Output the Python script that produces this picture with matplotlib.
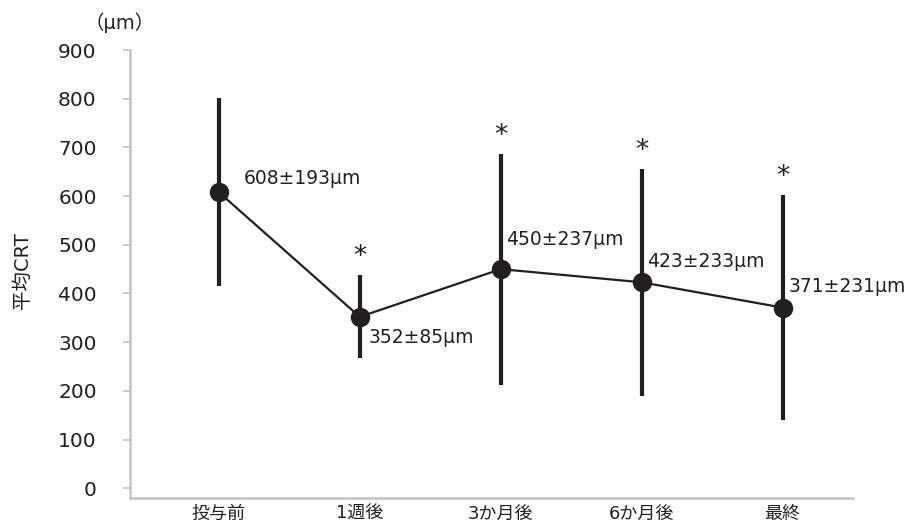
import matplotlib
matplotlib.use("Agg")
import matplotlib.pyplot as plt

plt.rcParams["font.family"] = ["DejaVu Sans", "Noto Sans CJK JP"]

# data
categories = ["投与前", "1週後", "3か月後", "6か月後", "最終"]
means = [608, 352, 450, 423, 371]
sds = [193, 85, 237, 233, 231]
significant = [False, True, True, True, True]
y_ticks = [0, 100, 200, 300, 400, 500, 600, 700, 800, 900]

ink = "#231f20"
axis_gray = "#c4c4c4"

fig = plt.figure(figsize=(9.21, 5.28), dpi=100)
ax = fig.add_axes([0.1412, 0.0568, 0.7850, 0.8485])

x = list(range(len(categories)))
ax.errorbar(x, means, yerr=sds, fmt="none", ecolor=ink, elinewidth=3.0,
            capsize=0, zorder=2)
ax.plot(x, means, color=ink, linewidth=1.6, marker="o", markersize=13,
        markerfacecolor=ink, markeredgecolor=ink, zorder=3)

# value labels (offsets in points)
offsets = [(18, 10), (6, -15), (4, 21), (4, 15), (4, 15)]
for xi, m, s, off in zip(x, means, sds, offsets):
    ax.annotate(f"{m}±{s}μm", (xi, m), xytext=off, textcoords="offset points",
                ha="left", va="center", fontsize=13.5, color=ink)

# significance marks
for xi, m, s, sig in zip(x, means, sds, significant):
    if sig:
        ax.annotate("*", (xi, m + s), xytext=(0, 13), textcoords="offset points",
                    ha="center", va="center", fontsize=19, color=ink)

ax.set_xlim(-0.63, 4.5)
ax.set_ylim(-20, 900)
ax.set_xticks(x)
ax.set_xticklabels(categories, fontsize=13, color=ink)
ax.set_yticks(y_ticks)
ax.set_yticklabels([str(v) for v in y_ticks], fontsize=14.5, color=ink)
ax.tick_params(axis="x", length=0, pad=5)
ax.tick_params(axis="y", length=5, width=1.2, color=axis_gray, pad=19)

for side in ["top", "right"]:
    ax.spines[side].set_visible(False)
for side in ["left", "bottom"]:
    ax.spines[side].set_color(axis_gray)
    ax.spines[side].set_linewidth(1.8)

fig.text(0.024, 0.487, "平均CRT", rotation=90, ha="center", va="center",
         fontsize=14, color=ink)
fig.text(0.130, 0.957, "（μm）", ha="center", va="center", fontsize=14,
         color=ink)

fig.savefig("out.png", dpi=100, facecolor="white")
